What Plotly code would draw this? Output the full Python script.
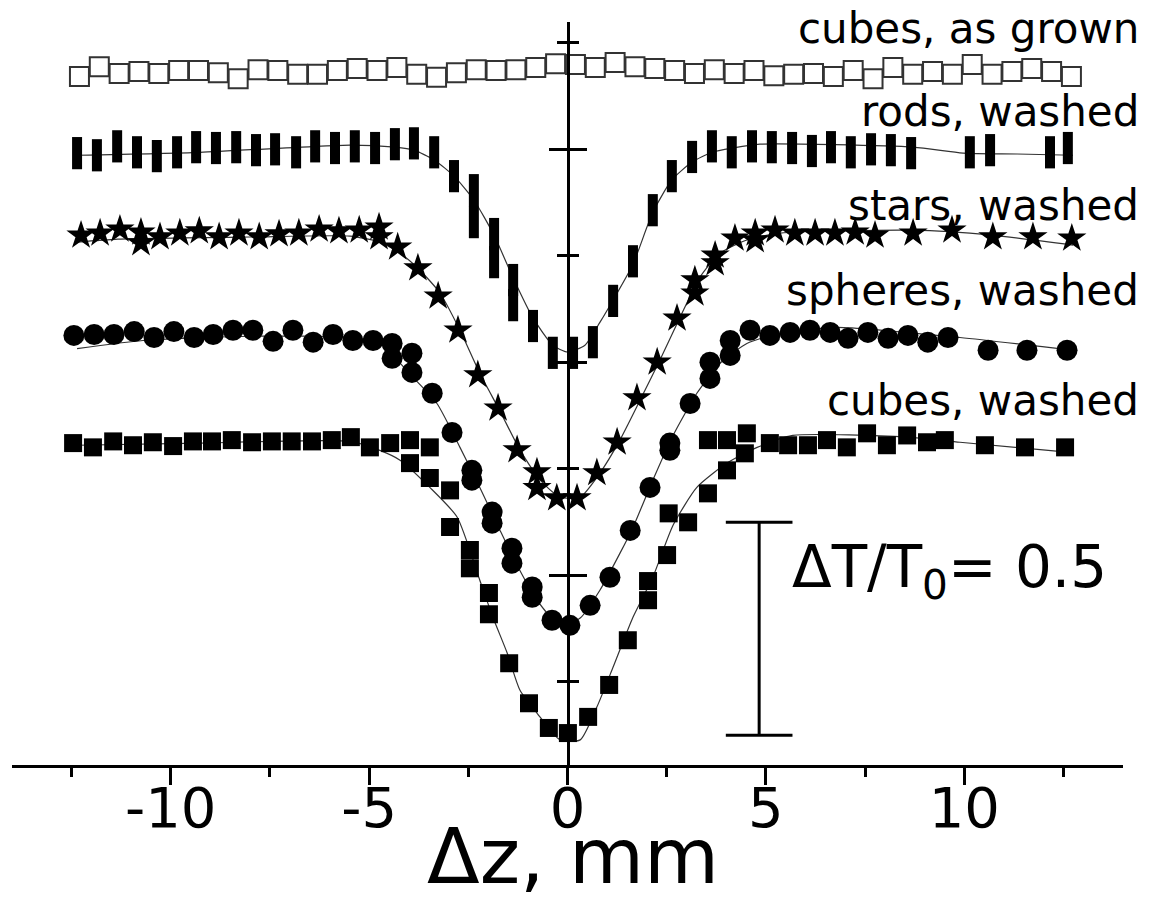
import plotly.graph_objects as go

# ---------------- data ----------------
# x: sample position dz (mm); T: normalized transmittance; curves are offset vertically
asgrown_x = [-12.3, -11.8, -11.3, -10.8, -10.3, -9.8, -9.3, -8.8, -8.3, -7.8, -7.3, -6.8, -6.3, -5.8,
             -5.3, -4.8, -4.3, -3.8, -3.3, -2.8, -2.3, -1.8, -1.3, -0.8, -0.3, 0.2, 0.7, 1.2, 1.7,
             2.2, 2.7, 3.2, 3.7, 4.2, 4.7, 5.2, 5.7, 6.2, 6.7, 7.2, 7.7, 8.2, 8.7, 9.2, 9.7, 10.2,
             10.7, 11.2, 11.7, 12.2, 12.7]
asgrown_T = [0.986, 1.009, 0.993, 0.998, 0.993, 1.000, 1.000, 0.995, 0.981, 1.002, 1.000, 0.991,
             0.991, 1.000, 1.005, 1.000, 1.007, 0.991, 0.984, 0.995, 1.002, 1.000, 1.002, 1.007,
             1.016, 1.014, 1.007, 1.019, 1.009, 1.005, 1.000, 0.993, 1.002, 0.993, 1.000, 0.988,
             0.991, 0.993, 0.986, 1.000, 0.981, 1.007, 0.991, 0.998, 0.991, 1.014, 0.991, 0.998,
             1.005, 0.998, 0.986]

rods_x = [-12.36, -11.86, -11.35, -10.85, -10.35, -9.84, -9.36, -8.86, -8.35, -7.85, -7.37, -6.84,
          -6.36, -5.86, -5.36, -4.85, -4.35, -3.87, -3.36, -2.86, -2.36, -2.36, -1.85, -1.85,
          -1.37, -1.37, -0.87, -0.37, 0.14, 0.64, 1.15, 1.65, 2.15, 2.63, 3.14, 3.64, 4.14, 4.65,
          5.15, 5.66, 6.16, 6.64, 7.14, 7.65, 8.15, 8.66, 10.14, 10.65, 12.16, 12.61]
rods_T = [0.993, 0.988, 1.009, 0.995, 0.986, 0.995, 1.007, 1.005, 1.007, 1.000, 1.002, 0.995,
          1.009, 1.005, 1.009, 1.005, 1.014, 1.016, 0.995, 0.939, 0.906, 0.831, 0.803, 0.737,
          0.695, 0.636, 0.587, 0.524, 0.524, 0.549, 0.646, 0.739, 0.859, 0.939, 0.984, 1.009,
          0.995, 1.009, 1.007, 1.005, 0.998, 1.007, 0.995, 1.002, 1.000, 0.993, 0.995, 1.000,
          0.995, 1.005]
rods_fit_x = [-12.36, -9.26, -5.48, -4.35, -3.87, -3.36, -2.86, -2.36, -1.85, -1.37, -0.87, -0.37,
              0.0, 0.44, 0.82, 1.15, 1.65, 2.15, 2.63, 3.14, 3.64, 4.17, 4.85, 8.71, 9.97, 11.33, 12.74]
rods_fit_T = [0.988, 0.995, 1.012, 1.007, 1.000, 0.977, 0.939, 0.883, 0.800, 0.700, 0.606, 0.542,
              0.526, 0.542, 0.596, 0.648, 0.732, 0.854, 0.930, 0.972, 0.995, 1.005, 1.014, 1.007,
              0.993, 0.991, 0.988]

stars_x = [-12.26, -11.78, -11.28, -10.75, -10.75, -10.27, -9.77, -9.28, -8.78, -8.28, -7.77, -7.27,
           -6.77, -6.26, -5.76, -5.25, -4.75, -4.75, -4.28, -3.77, -3.26, -2.76, -2.26, -1.75,
           -1.27, -0.77, -0.77, -0.27, 0.24, 0.74, 1.25, 1.75, 2.26, 2.76, 3.21, 3.21, 3.72, 3.72,
           4.22, 4.73, 4.73, 5.23, 5.73, 6.24, 6.74, 7.25, 7.75, 8.71, 9.69, 10.72, 11.73, 12.71]
stars_T = [0.995, 1.000, 1.009, 1.002, 0.977, 0.991, 1.000, 1.005, 0.991, 1.000, 0.991, 0.998,
           1.000, 1.009, 1.005, 1.007, 1.014, 0.991, 0.967, 0.918, 0.852, 0.772, 0.667, 0.589,
           0.491, 0.439, 0.402, 0.378, 0.378, 0.437, 0.509, 0.613, 0.697, 0.800, 0.890, 0.859,
           0.948, 0.930, 0.988, 1.000, 0.984, 1.007, 1.000, 1.000, 1.000, 1.002, 0.995, 1.000,
           1.007, 0.991, 0.991, 0.988]
stars_fit_x = [-12.36, -11.33, -8.00, -5.48, -4.73, -4.22, -3.72, -3.21, -2.71, -2.21, -1.70, -1.20,
               -0.69, -0.19, 0.32, 0.82, 1.32, 1.83, 2.33, 2.84, 3.34, 3.84, 4.52, 5.36, 8.71,
               10.72, 12.74]
stars_fit_T = [0.979, 0.986, 0.991, 0.993, 0.979, 0.953, 0.913, 0.859, 0.772, 0.671, 0.582, 0.491,
               0.420, 0.380, 0.380, 0.437, 0.514, 0.608, 0.702, 0.803, 0.897, 0.953, 0.984, 1.000,
               1.007, 0.995, 0.972]

spheres_x = [-12.44, -11.93, -11.43, -10.92, -10.42, -9.92, -9.41, -8.93, -8.43, -7.93, -7.42, -6.92,
             -6.41, -5.91, -5.41, -4.90, -4.42, -4.42, -3.92, -3.92, -3.41, -2.91, -2.41, -2.41,
             -1.90, -1.90, -1.40, -1.40, -0.89, -0.89, -0.39, 0.06, 0.57, 1.07, 1.58, 2.08, 2.58,
             2.58, 3.09, 3.59, 3.59, 4.10, 4.10, 4.60, 5.10, 5.61, 6.11, 6.62, 7.07, 7.57, 8.08,
             8.58, 9.08, 9.59, 10.60, 11.58, 12.59]
spheres_T = [1.000, 1.002, 1.002, 1.009, 0.995, 1.009, 0.995, 1.002, 1.012, 1.012, 0.986, 1.012,
             0.984, 1.002, 0.988, 0.988, 0.946, 0.981, 0.958, 0.913, 0.864, 0.772, 0.683, 0.660,
             0.585, 0.559, 0.500, 0.465, 0.409, 0.385, 0.331, 0.319, 0.366, 0.432, 0.542, 0.643,
             0.747, 0.730, 0.840, 0.937, 0.899, 0.988, 0.953, 1.012, 1.000, 1.007, 1.012, 1.007,
             0.993, 1.007, 0.993, 1.000, 0.984, 0.995, 0.965, 0.965, 0.965]
spheres_fit_x = [-12.36, -10.70, -8.00, -5.48, -4.73, -3.89, -3.29, -2.71, -2.21, -1.70, -1.27, -0.77,
                 -0.19, 0.32, 0.82, 1.32, 1.65, 2.15, 2.66, 3.26, 3.84, 4.52, 5.36, 6.79, 9.89, 12.74]
spheres_fit_T = [0.969, 0.988, 0.998, 0.995, 0.981, 0.901, 0.840, 0.737, 0.643, 0.542, 0.460, 0.378,
                 0.319, 0.336, 0.402, 0.488, 0.549, 0.660, 0.765, 0.864, 0.934, 0.981, 1.005, 1.019,
                 0.995, 0.965]

cubes_x = [-12.46, -11.96, -11.45, -10.95, -10.45, -9.94, -9.44, -8.96, -8.46, -7.95, -7.45, -6.95,
           -6.44, -5.94, -5.46, -4.98, -4.47, -3.97, -3.97, -3.47, -3.47, -2.96, -2.96, -2.46,
           -2.46, -1.98, -1.98, -1.47, -0.97, -0.47, 0.01, 0.52, 1.05, 1.52, 2.03, 2.03, 2.51,
           2.55, 3.04, 3.54, 4.02, 4.47, 3.54, 4.02, 4.52, 5.10, 5.56, 6.06, 6.54, 7.04, 7.55,
           8.05, 8.56, 9.06, 9.51, 10.52, 11.53, 12.54]
cubes_T = [0.998, 0.988, 1.002, 0.993, 1.000, 0.991, 1.002, 1.002, 1.005, 1.000, 1.002, 1.002,
           1.002, 1.005, 1.012, 0.988, 0.998, 1.005, 0.951, 0.988, 0.916, 0.887, 0.801, 0.747,
           0.704, 0.646, 0.596, 0.481, 0.387, 0.329, 0.317, 0.355, 0.430, 0.535, 0.629, 0.674,
           0.735, 0.833, 0.812, 0.880, 0.934, 0.974, 1.005, 1.005, 1.021, 0.998, 0.993, 0.993,
           1.005, 0.988, 1.021, 0.993, 1.016, 1.000, 1.005, 0.993, 0.988, 0.988]
cubes_fit_x = [-12.36, -9.26, -5.48, -4.73, -4.22, -3.47, -2.78, -2.21, -1.88, -1.52, -1.20, -0.77,
               -0.19, 0.32, 0.74, 1.15, 1.65, 2.15, 2.66, 3.26, 4.02, 4.78, 5.68, 8.56, 9.89, 12.59]
cubes_fit_T = [0.993, 0.998, 1.002, 0.981, 0.958, 0.894, 0.824, 0.676, 0.589, 0.505, 0.418, 0.364,
               0.301, 0.301, 0.378, 0.472, 0.589, 0.683, 0.805, 0.894, 0.951, 0.988, 1.016, 1.012,
               1.000, 0.977]

# vertical offsets of each curve
offsets = {"asgrown": 0.685, "rods": 0.498, "stars": 0.303, "spheres": 0.063, "cubes": -0.188}
labels = {"asgrown": "cubes, as grown", "rods": "rods, washed", "stars": "stars, washed",
          "spheres": "spheres, washed", "cubes": "cubes, washed"}
label_y = {"asgrown": 1.784, "rods": 1.588, "stars": 1.368, "spheres": 1.168, "cubes": 0.910}

# scale bar: dT/T0 = 0.5
bar_len = 0.5
bar_bottom = 0.124
bar_x = 4.83
bar_cap = 0.84

x_ticks = [-10, -5, 0, 5, 10]
x_ticktext = ["-10", "-5", "0", "5", "10"]
y_range = [0.054, 1.799]
x_range = [-14, 14]

FONT = "DejaVu Sans"
LINE_C = "#333333"


def shift(vals, off):
    return [v + off for v in vals]


fig = go.Figure()

# fitted curves (thin lines)
for key, fx, ft in [("rods", rods_fit_x, rods_fit_T), ("stars", stars_fit_x, stars_fit_T),
                    ("spheres", spheres_fit_x, spheres_fit_T), ("cubes", cubes_fit_x, cubes_fit_T)]:
    fig.add_trace(go.Scatter(x=fx, y=shift(ft, offsets[key]), mode="lines",
                             line=dict(color=LINE_C, width=1.2, shape="spline", smoothing=0.6),
                             hoverinfo="skip", showlegend=False, cliponaxis=False))

# data points
fig.add_trace(go.Scatter(x=asgrown_x, y=shift(asgrown_T, offsets["asgrown"]), mode="markers",
                         marker=dict(symbol="square-open", size=19, color="#333333",
                                     line=dict(width=2, color="#333333")),
                         showlegend=False, cliponaxis=False))
fig.add_trace(go.Scatter(x=rods_x, y=shift(rods_T, offsets["rods"]), mode="markers",
                         marker=dict(symbol="line-ns", size=23, color="black",
                                     line=dict(width=10, color="black")),
                         showlegend=False, cliponaxis=False))
fig.add_trace(go.Scatter(x=stars_x, y=shift(stars_T, offsets["stars"]), mode="markers",
                         marker=dict(symbol="star", size=22, color="black", line=dict(width=0)),
                         showlegend=False, cliponaxis=False))
fig.add_trace(go.Scatter(x=spheres_x, y=shift(spheres_T, offsets["spheres"]), mode="markers",
                         marker=dict(symbol="circle", size=21, color="black", line=dict(width=0)),
                         showlegend=False, cliponaxis=False))
fig.add_trace(go.Scatter(x=cubes_x, y=shift(cubes_T, offsets["cubes"]), mode="markers",
                         marker=dict(symbol="square", size=18, color="black", line=dict(width=0)),
                         showlegend=False, cliponaxis=False))

# scale bar (drawn on the overlaid y axis, same range)
bt = bar_bottom + bar_len
fig.add_trace(go.Scatter(
    x=[bar_x - bar_cap, bar_x + bar_cap, None, bar_x, bar_x, None, bar_x - bar_cap, bar_x + bar_cap],
    y=[bt, bt, None, bt, bar_bottom, None, bar_bottom, bar_bottom],
    mode="lines", line=dict(color="black", width=3), yaxis="y2",
    hoverinfo="skip", showlegend=False))

# paper-x of the right edge of the curve labels (slightly beyond the axis end)
label_right = 1.016
annotations = []
for key in ["asgrown", "rods", "stars", "spheres", "cubes"]:
    annotations.append(dict(x=label_right, y=label_y[key], xref="paper", yref="y", text=labels[key],
                            showarrow=False, xanchor="right", yanchor="middle",
                            font=dict(family=FONT, size=42, color="black")))
annotations.append(dict(x=5.61, y=0.51, xref="x", yref="y", text="ΔT/T<sub>0</sub>= 0.5",
                        showarrow=False, xanchor="left", yanchor="middle",
                        font=dict(family=FONT, size=58, color="black")))
annotations.append(dict(x=0.15, y=-0.186, xref="x", yref="paper", text="Δz, mm",
                        showarrow=False, xanchor="center", yanchor="bottom",
                        font=dict(family=FONT, size=77, color="black")))

fig.update_layout(
    width=1152, height=903,
    margin=dict(l=12, r=29, t=22, b=138),
    paper_bgcolor="white", plot_bgcolor="white",
    showlegend=False,
    annotations=annotations,
    xaxis=dict(range=x_range, tickvals=x_ticks, ticktext=x_ticktext, ticks="outside",
               ticklen=17, tickwidth=3, ticklabelstandoff=-25,
               tickcolor="black", showline=True, linewidth=3, linecolor="black",
               showgrid=False, zeroline=False,
               tickfont=dict(family=FONT, size=56, color="black"),
               minor=dict(dtick=2.5, tick0=0, ticks="outside", ticklen=9, tickwidth=3,
                          tickcolor="black", showgrid=False)),
    yaxis=dict(range=y_range, anchor="free", position=0.5, side="left",
               showline=True, linewidth=3, linecolor="black",
               ticks="outside", tick0=0, dtick=0.5, ticklen=18, tickwidth=3, tickcolor="black",
               minor=dict(dtick=0.25, ticks="outside", ticklen=10, tickwidth=3,
                          tickcolor="black", showgrid=False),
               showticklabels=False, showgrid=False, zeroline=False),
    yaxis2=dict(range=y_range, anchor="free", position=0.5, side="right", overlaying="y",
                showline=False,
                ticks="outside", tick0=0, dtick=0.5, ticklen=18, tickwidth=3, tickcolor="black",
                minor=dict(dtick=0.25, ticks="outside", ticklen=10, tickwidth=3,
                           tickcolor="black", showgrid=False),
                showticklabels=False, showgrid=False, zeroline=False),
)

fig.write_html("out.html")
